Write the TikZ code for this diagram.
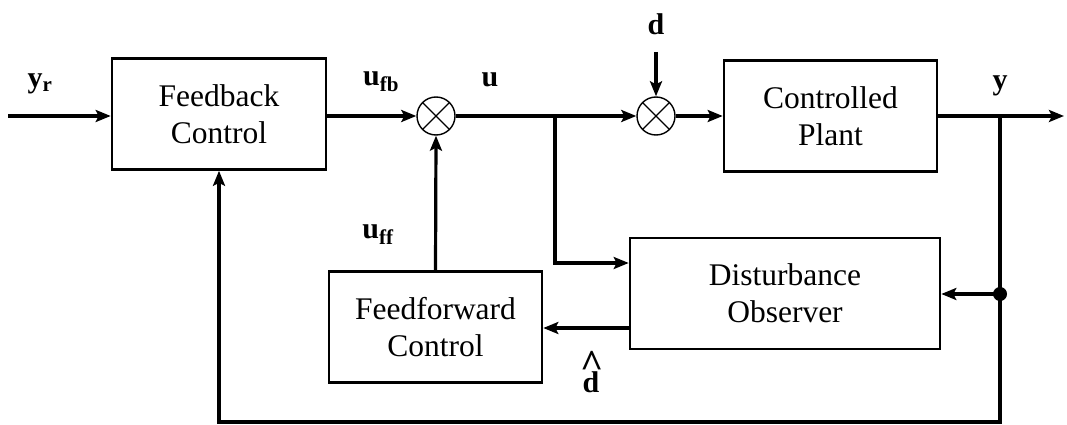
\documentclass[tikz,border=0pt]{standalone}
\usepackage{fontspec}
\setmainfont{Liberation Serif}
\usetikzlibrary{arrows.meta}
\begin{document}
\begin{tikzpicture}[x=1pt,y=-1pt,
  blk/.style={draw, line width=2.6pt, minimum width=#1, minimum height=111pt, inner sep=0pt, align=center, font=\fontsize{31.5}{37}\selectfont},
  sumnode/.style={draw, circle, line width=1.4pt, minimum size=38pt, inner sep=0pt,
    path picture={\draw[line width=1.2pt] (path picture bounding box.north west) -- (path picture bounding box.south east)
      (path picture bounding box.north east) -- (path picture bounding box.south west);}},
  conn/.style={line width=3.2pt, -{Stealth[length=15pt,width=12pt,inset=3pt]}},
  wire/.style={line width=3.2pt},
  lbl/.style={font=\fontsize{30}{32}\selectfont\bfseries, inner sep=0pt}
]
\useasboundingbox (0,0) rectangle (1067,425);
\node[blk=214pt] (fb) at (219,114) {Feedback\\Control};
\node[blk=213pt] (pl) at (830.5,116) {Controlled\\Plant};
\node[blk=310pt] (do) at (785,293.5) {Disturbance\\Observer};
\node[blk=213pt] (ff) at (435.5,327) {Feedforward\\Control};
\node[sumnode] (s1) at (436,116) {};
\node[sumnode] (s2) at (656,116) {};
\coordinate (in) at (8,116);
\coordinate (br) at (555,116);
\coordinate (tap) at (1000,116);
\coordinate (out) at (1064,116);
\coordinate (dot) at (1000,294);
\coordinate (dtop) at (656,52);
\coordinate (bl) at (1000,422);
\coordinate (br2) at (219,422);
\fill (dot) circle (7pt);
\draw[conn] (in) -- (in -| fb.west);
\draw[conn] (fb.east |- s1) -- (s1.west);
\draw[wire] (s1.east) -- (br);
\draw[conn] (br) -- (s2.west);
\draw[conn] (br) |- (do.west |- 0,263);
\draw[conn] (s2.east) -- (pl.west);
\draw[conn] (pl.east) -- (out);
\draw[conn] (tap) -- (bl) -- (br2) -- (fb.south);
\draw[conn] (dot) -- (do.east |- dot);
\draw[conn] (do.west |- 0,328) -- (ff.east |- 0,328);
\draw[conn] (ff.north) -- (s1.south);
\draw[conn] (dtop) -- (s2.north);
\node[lbl] (lyr) at (40,84) {y\textsubscript{r}};
\node[lbl] (lufb) at (381,82) {u\textsubscript{fb}};
\node[lbl] (lu) at (490,80) {u};
\node[lbl] (ld) at (656,24) {d};
\node[lbl] (ly) at (1000,86) {y};
\node[lbl] (luff) at (378,235) {u\textsubscript{ff}};
\node[lbl] (ldh) at (591,372) {d\llap{\raisebox{0.5em}{\fontsize{40}{40}\selectfont\^{}}\kern-4pt}};
\end{tikzpicture}
\end{document}
